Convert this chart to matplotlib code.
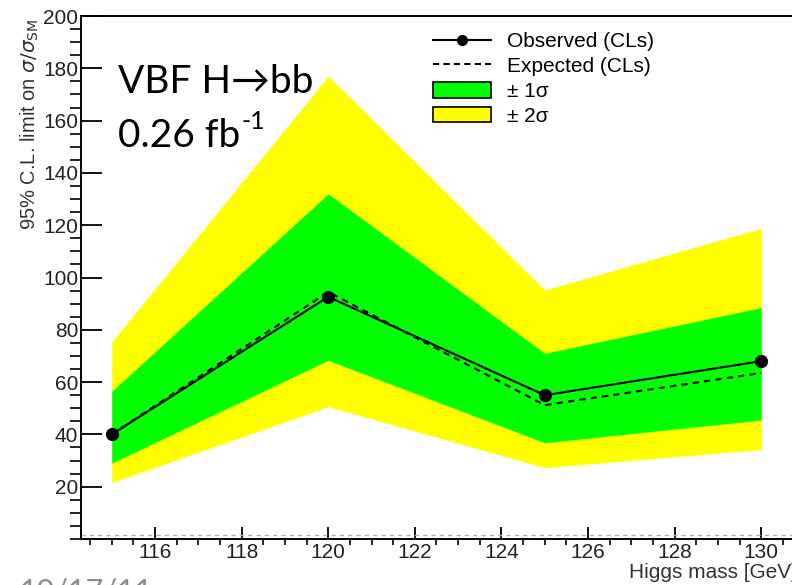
import matplotlib.pyplot as plt
from matplotlib.lines import Line2D
from matplotlib.patches import Patch
from matplotlib.ticker import MultipleLocator

# Higgs mass points and the CLs limits
masses = [115, 120, 125, 130]
observed = [40, 92.6, 55, 68]
expected = [40, 94.5, 51.2, 63.5]
one_sigma_low = [29, 68.3, 36.8, 45.5]
one_sigma_high = [56.5, 132, 71, 88.5]
two_sigma_low = [21.6, 50.6, 27.3, 34.2]
two_sigma_high = [75.3, 177, 95.2, 118.8]

W, H = 792, 585
plt.rcParams['font.family'] = ['Liberation Sans', 'DejaVu Sans']

fig = plt.figure(figsize=(W / 100, H / 100), dpi=100)
# axes run off the right edge of the picture, like the cropped original
left, right, top, bottom = 81, 830, 16, 539
ax = fig.add_axes([left / W, 1 - bottom / H, (right - left) / W, (bottom - top) / H])

x0 = 114.29
px_per_gev = 43.3
ax.set_xlim(x0, x0 + (right - left) / px_per_gev)
ax.set_ylim(0, 200)

ax.fill_between(masses, two_sigma_low, two_sigma_high, color='#ffff00', lw=0)
ax.fill_between(masses, one_sigma_low, one_sigma_high, color='#00ff00', lw=0)
ax.plot(masses, expected, color='black', ls=(0, (3, 2.5)), lw=1.5)
ax.plot(masses, observed, color='black', lw=1.5, marker='o', ms=8.5)
ax.axhline(1.5, color='#9fb3c8', ls=(0, (3, 3)), lw=1)

ax.xaxis.set_major_locator(MultipleLocator(2))
ax.xaxis.set_minor_locator(MultipleLocator(0.5))
ax.yaxis.set_major_locator(MultipleLocator(20))
ax.yaxis.set_minor_locator(MultipleLocator(5))
ax.set_yticks(range(20, 201, 20))
ax.tick_params(direction='in', labelsize=15, width=1.3, colors='black', labelcolor='#222222')
ax.tick_params(axis='x', which='major', length=9, pad=3)
ax.tick_params(axis='x', which='minor', length=4.5, width=1.2)
ax.tick_params(axis='y', which='major', length=15, pad=2)
ax.tick_params(axis='y', which='minor', length=8, width=1.2)
for s in ax.spines.values():
    s.set_linewidth(1.4)

fig.text(30 / W, 1 - 18 / H, r'95% C.L. limit on $\sigma/\sigma_{\rm SM}$', rotation=90,
         ha='center', va='top', fontsize=14.5, color='#333333')
fig.text(797 / W, 1 - 563 / H, 'Higgs mass [GeV]', ha='right', va='top', fontsize=15,
         color='#333333')

handles = [
    Line2D([], [], color='black', lw=1.5, marker='o', ms=7),
    Line2D([], [], color='black', lw=1.5, ls=(0, (3, 2))),
    Patch(facecolor='#00ff00', edgecolor='black', lw=1.2),
    Patch(facecolor='#ffff00', edgecolor='black', lw=1.2),
]
labels = ['Observed (CLs)', 'Expected (CLs)', '± 1σ', '± 2σ']
fig.legend(handles, labels, loc='upper left', bbox_to_anchor=(433 / W, 1 - 32 / H),
           frameon=False, fontsize=15, handlelength=2.8, handleheight=0.8,
           labelspacing=0.27, handletextpad=0.75, borderpad=0, borderaxespad=0)

big = ['Lato', 'DejaVu Sans']
fig.text(118 / W, 1 - 93 / H, 'VBF H→bb', fontsize=28, family=big, va='baseline')
t = fig.text(118 / W, 1 - 147 / H, '0.26 fb', fontsize=28, family=big, va='baseline')
fig.canvas.draw()
bb = t.get_window_extent()
fig.text(bb.x1 / W + 0.002, 1 - 129 / H, '-1', fontsize=18, family=big, va='baseline')

fig.text(20 / W, 1 - 578 / H, '10/17/11', fontsize=22, family=big, color='#8c8c8c', va='top')

fig.savefig('out.png', dpi=100)
